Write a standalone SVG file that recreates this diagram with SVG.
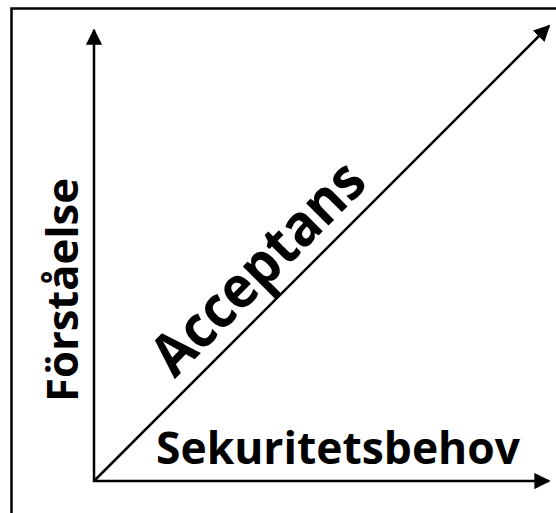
<svg xmlns="http://www.w3.org/2000/svg" width="556" height="513" viewBox="0 0 556 513">
<style>
.ln{stroke:#000;stroke-width:2.5;fill:none}
.lbl{font-family:"Open Sans","Noto Sans","Liberation Sans",sans-serif;font-weight:700;fill:#000}
</style>
<defs>
<marker id="ah" viewBox="0 0 10 10" refX="9" refY="5" markerWidth="6.5" markerHeight="6.5" orient="auto" markerUnits="strokeWidth">
<path d="M0,0 L10,5 L0,10 Z" fill="#000"/>
</marker>
</defs>
<rect width="556" height="513" fill="#fff"/>
<g id="frame"><path class="ln" d="M11.5,513 V8.5 H556"/></g>
<g id="connectors">
<line class="ln" x1="94" y1="482" x2="94" y2="30" marker-end="url(#ah)"/>
<line class="ln" x1="93" y1="481" x2="549" y2="481" marker-end="url(#ah)"/>
<line class="ln" x1="94" y1="481" x2="549" y2="26" marker-end="url(#ah)"/>
</g>
<g id="yaxis-label"><text class="lbl" font-size="43" text-anchor="middle" transform="translate(78,290) rotate(-90)" textLength="224" lengthAdjust="spacingAndGlyphs">Förståelse</text></g>
<g id="xaxis-label"><text class="lbl" font-size="45" x="156" y="464" textLength="364" lengthAdjust="spacingAndGlyphs">Sekuritetsbehov</text></g>
<g id="diag-label"><text class="lbl" font-size="58" text-anchor="middle" transform="translate(272,282) rotate(-45)" textLength="275" lengthAdjust="spacingAndGlyphs">Acceptans</text></g>
</svg>
